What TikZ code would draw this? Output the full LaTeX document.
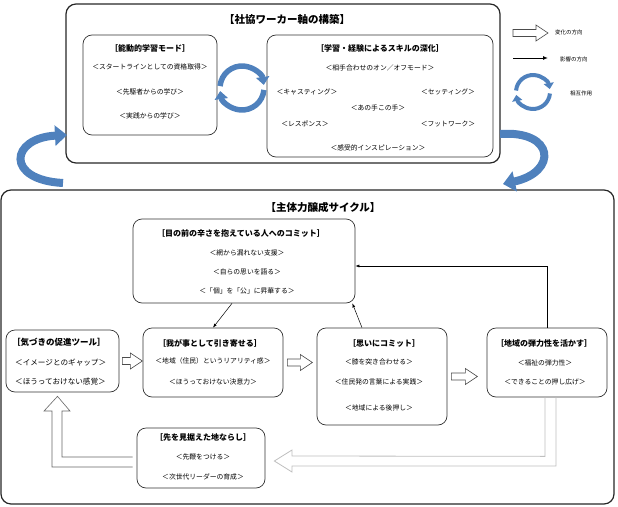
\documentclass[tikz,border=0pt]{standalone}
\usepackage{fontspec}
\setmainfont{Noto Sans CJK JP}
\usetikzlibrary{arrows.meta,calc}

\definecolor{cycleblue}{HTML}{4F81BD}
\definecolor{arrgray}{HTML}{BFBFBF}

\tikzset{
  panel/.style={draw=black!85, line width=1.2pt, rounded corners=10pt},
  stage/.style={draw=black!80, line width=0.7pt, rounded corners=9pt},
  heading/.style={font=\bfseries\fontsize{8}{9}\selectfont, inner sep=0pt},
  item/.style={font=\fontsize{6.8}{8}\selectfont, inner sep=0pt},
  bigtitle/.style={font=\bfseries\fontsize{10.5}{12}\selectfont, inner sep=0pt},
  legendtext/.style={font=\fontsize{5.5}{6}\selectfont, inner sep=0pt, anchor=west},
  influence/.style={-{Latex[length=4pt,width=3pt]}, line width=0.5pt},
  swirl/.style={cycleblue, line width=#1},
  bigcurve/.style={cycleblue, line width=8pt, -{Triangle[width=20pt,length=12pt]}},
  pics/hollowarr/.style={code={\draw[draw=black!70, fill=white, line width=0.6pt]
    (0,-3.5) -- ({#1-12},-3.5) -- ({#1-12},-8) -- (#1,0) -- ({#1-12},8) -- ({#1-12},3.5) -- (0,3.5) -- cycle;}}
}

\begin{document}
\begin{tikzpicture}[x=1pt,y=-1pt]
        \useasboundingbox (0,0) rectangle (618,506);

        % ================== upper panel ==================
        \node[panel, minimum width=434pt, minimum height=159pt] (outerTop) at (283,83.5) {};
        \node[bigtitle] (topTitle) at (287,19) {【社協ワーカー軸の構築】};

        % left box
        \node[stage, minimum width=134pt, minimum height=100pt] (modeBox) at (150,85) {};
        \node[heading] (modeT) at (150,48) {［能動的学習モード］};
        \node[item] (mode1) at (150,67) {＜スタートラインとしての資格取得＞};
        \node[item] (mode2) at (150,92) {＜先駆者からの学び＞};
        \node[item] (mode3) at (150,116) {＜実践からの学び＞};

        % right box
        \node[stage, minimum width=226pt, minimum height=122pt] (skillBox) at (380,96) {};
        \node[heading] (skillT) at (380,48) {［学習・経験によるスキルの深化］};
        \node[item] (skill1) at (380,68) {＜相手合わせのオン／オフモード＞};
        \node[item] (skill2) at (307,92) {＜キャスティング＞};
        \node[item] (skill3) at (448,92) {＜セッティング＞};
        \node[item] (skill4) at (378,108) {＜あの手この手＞};
        \node[item] (skill5) at (305,124) {＜レスポンス＞};
        \node[item] (skill6) at (448,124) {＜フットワーク＞};
        \node[item] (skill7) at (378,148) {＜感受的インスピレーション＞};

        % interaction between the two boxes
        \coordinate (swirlTop) at (242,88);
        \draw[swirl=5.5pt, -{Triangle[width=13pt,length=8pt]}] ($(swirlTop)+(185:22)$) arc[start angle=185, end angle=352, radius=22];
        \draw[swirl=5.5pt, -{Triangle[width=13pt,length=8pt]}] ($(swirlTop)+(5:22)$) arc[start angle=5, end angle=172, radius=22];

        % ================== legend ==================
        \pic at (513,33) {hollowarr=35};
        \node[legendtext] (legend1) at (555,32) {変化の方向};
        \coordinate (legA) at (513,58);
        \coordinate (legB) at (548,58);
        \draw[-{Latex[length=5pt,width=4pt]}, line width=1pt] (legA) -- (legB);
        \node[legendtext] (legend2) at (560,59) {影響の方向};
        \coordinate (swirlKey) at (533,92);
        \draw[swirl=4pt, -{Triangle[width=10pt,length=6pt]}] ($(swirlKey)+(185:17)$) arc[start angle=185, end angle=350, radius=17];
        \draw[swirl=4pt, -{Triangle[width=10pt,length=6pt]}] ($(swirlKey)+(5:17)$) arc[start angle=5, end angle=170, radius=17];
        \node[legendtext] (legend3) at (570,93) {相互作用};

        % ================== lower panel ==================
        \node[panel, minimum width=613pt, minimum height=314pt] (outerCycle) at (307.5,347) {};
        \node[bigtitle] (cycleTitle) at (323,207) {【主体力醸成サイクル】};

        % top box
        \node[stage, minimum width=222pt, minimum height=84pt] (commitBox) at (244,261) {};
        \node[heading] (commitT) at (241,233) {［目の前の辛さを抱えている人へのコミット］};
        \node[item] (commit1) at (247,253) {＜網から漏れない支援＞};
        \node[item] (commit2) at (247,272) {＜自らの思いを語る＞};
        \node[item] (commit3) at (247,291) {＜「個」を「公」に昇華する＞};

        % row of stages
        \node[stage, minimum width=113pt, minimum height=62pt] (kizukiBox) at (62.5,361) {};
        \node[heading, anchor=west, font=\bfseries\fontsize{8.5}{9}\selectfont] (kizukiT) at (12,342) {［気づきの促進ツール］};
        \node[item, anchor=west, font=\fontsize{7.6}{8}\selectfont] (kizuki1) at (15,363) {＜イメージとのギャップ＞};
        \node[item, anchor=west, font=\fontsize{7.6}{8}\selectfont] (kizuki2) at (15,382) {＜ほうっておけない感覚＞};

        \node[stage, minimum width=140pt, minimum height=69pt] (wagaBox) at (213,362.5) {};
        \node[heading] (wagaT) at (210,343) {［我が事として引き寄せる］};
        \node[item] (waga1) at (213,361) {＜地域（住民）というリアリティ感＞};
        \node[item] (waga2) at (213,382) {＜ほうっておけない決意力＞};

        \node[stage, minimum width=130pt, minimum height=97pt] (omoiBox) at (382,376.5) {};
        \node[heading] (omoiT) at (384,343) {［思いにコミット］};
        \node[item] (omoi1) at (379,362) {＜膝を突き合わせる＞};
        \node[item] (omoi2) at (379,382) {＜住民発の言葉による実践＞};
        \node[item] (omoi3) at (379,408) {＜地域による後押し＞};

        \node[stage, minimum width=120pt, minimum height=69pt] (danBox) at (547,362.5) {};
        \node[heading] (danT) at (544,343) {［地域の弾力性を活かす］};
        \node[item] (dan1) at (545,363) {＜福祉の弾力性＞};
        \node[item] (dan2) at (545,382) {＜できることの押し広げ＞};

        \node[stage, minimum width=128pt, minimum height=60pt] (sakiBox) at (201,458) {};
        \node[heading] (sakiT) at (203,437) {［先を見据えた地ならし］};
        \node[item] (saki1) at (203,457) {＜先鞭をつける＞};
        \node[item] (saki2) at (203,477) {＜次世代リーダーの育成＞};

        % change arrows along the row
        \pic at ($(kizukiBox.east)+(3,0)$) {hollowarr=20};
        \pic at ($(wagaBox.east)+(4,0)$) {hollowarr=25};
        \pic at ($(omoiBox.east)+(4,0)$) {hollowarr=26};

        % change arrow back from the right
        \draw[draw=arrgray, line width=0.8pt] ($(danBox.south)+(-2,0)$) -- ++(0,59) -- (292,456) -- ++(0,-6)
            -- ($(sakiBox.east)+(9,3)$) -- (292,472) -- ++(0,-6) -- ++(264,0) -- ($(danBox.south)+(9,0)$);

        % change arrow up to the first stage
        \draw[draw=black!60, fill=white, line width=0.6pt] ($(sakiBox.west)+(-4,-1)$) -- (62,457) -- (62,411) -- (70,411)
            -- ($(kizukiBox.south)+(-5,4)$) -- (44,411) -- (52,411) -- (52,467) -- ($(sakiBox.west)+(-4,9)$);

        % influence arrows
        \draw[influence] (danBox.north) |- ([yshift=-5pt]commitBox.east);
        \draw[influence] ([xshift=-12pt]commitBox.south) -- (wagaBox.north);
        \draw[influence] ([xshift=-20pt]omoiBox.north) -- ([xshift=-3pt]commitBox.south east);

        % ================== between the panels ==================
        \coordinate (cycleOut) at (63,183);
        \coordinate (topIn) at (67,135);
        \draw[bigcurve] (cycleOut) .. controls (5,180) and (10,138) .. (topIn);
        \coordinate (topOut) at (500,134);
        \coordinate (cycleIn) at (503,184);
        \draw[bigcurve] (topOut) .. controls (555,130) and (558,172) .. (cycleIn);

\end{tikzpicture}
\end{document}
